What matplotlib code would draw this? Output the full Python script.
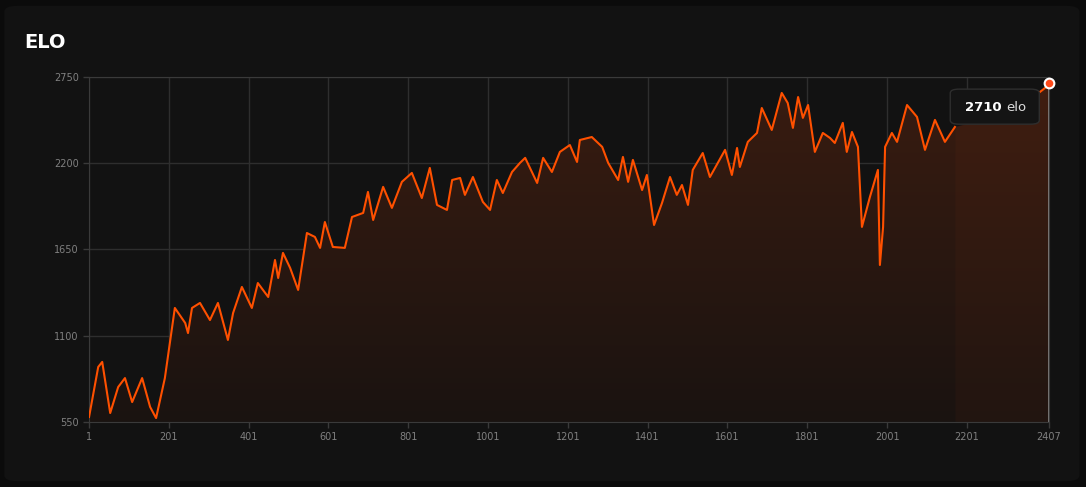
import matplotlib
matplotlib.use("Agg")
import matplotlib.pyplot as plt
import numpy as np
from matplotlib.patches import FancyBboxPatch, Polygon
from matplotlib.colors import LinearSegmentedColormap

games = [1,24,34,54,74,91,109,134,154,169,191,216,242,249,259,279,304,324,349,362,384,409,424,450,467,475,487,505,525,547,567,580,592,612,
         642,660,688,700,713,738,760,785,810,835,855,873,898,911,931,943,963,988,1006,1023,1038,1061,1081,1094,1124,1139,1161,1181,1206,1224,1231,
         1261,1287,1302,1327,1339,1352,1364,1387,1399,1417,1437,1457,1474,1487,1502,1514,1539,1557,1595,1612,1625,1632,1652,1675,1687,1712,1737,1752,1765,1778,1790,1803,1820,1840,
         1858,1870,1890,1900,1913,1928,1938,1958,1978,1983,1991,1996,2013,2026,2051,2076,2096,2121,2146,2171,
         2200,2250,2300,2350,2384,2397,2407]
elo = [582,901,933,607,773,830,677,830,646,575,830,1277,1181,1117,1277,1309,1200,1309,1073,1245,1411,1277,1436,1347,1583,1468,1628,1532,1392,1755,1730,1660,1825,1666,
       1660,1857,1883,2017,1838,2049,1915,2081,2138,1978,2170,1934,1902,2093,2106,1998,2112,1953,1902,2093,2010,2144,2202,2234,2074,2234,2144,2272,2316,2208,2348,
       2367,2304,2202,2093,2240,2081,2221,2029,2125,1806,1947,2112,1998,2061,1934,2157,2265,2112,2285,2125,2297,2176,2336,2393,2552,2412,2648,2584,2425,2622,2489,2571,2272,2393,
       2361,2329,2457,2272,2399,2304,1794,1985,2157,1551,1794,2304,2393,2336,2571,2495,2285,2476,2336,2431,
       2450,2550,2600,2620,2654,2680,2710]
yticks = [550,1100,1650,2200,2750]
xticks = [1,201,401,601,801,1001,1201,1401,1601,1801,2001,2201,2407]
hover_start = 2171

g = np.array(games); e = np.array(elo)
fig = plt.figure(figsize=(10.86,4.87), dpi=100, facecolor="#0b0b0b")
fig.patches.append(FancyBboxPatch((0.004,0.012),0.99,0.976, boxstyle="round,pad=0,rounding_size=0.012",
    transform=fig.transFigure, facecolor="#121212", edgecolor="none", zorder=-10))
ax = fig.add_axes([0.082,0.1335,0.884,0.7085])
ax.set_facecolor("none")
ax.set_xlim(1,2407); ax.set_ylim(550,2750)
ax.set_xticks(xticks); ax.set_yticks(yticks)
ax.tick_params(colors="#3a3a3a", labelcolor="#808080", labelsize=7, length=4, width=1)
for s in ax.spines.values(): s.set_color("#3a3a3a")
ax.grid(True, color="#2e2e2e", lw=1)
ax.set_axisbelow(True)

grad = np.linspace(0,1,256).reshape(-1,1)
cm = LinearSegmentedColormap.from_list("f", ["#1a1311", "#3a1c10"])
im = ax.imshow(grad, extent=[1,2407,550,2750], origin="lower", aspect="auto", cmap=cm, zorder=1)
poly = Polygon(np.column_stack([np.r_[g, g[-1], g[0]], np.r_[e, 550, 550]]), closed=True, transform=ax.transData)
im.set_clip_path(poly)
m = g >= hover_start
ax.fill_between(g[m], e[m], 550, color="#ff5a1f", alpha=0.035, lw=0, zorder=2)
ax.plot(g[g <= hover_start], e[g <= hover_start], color="#ff5000", lw=1.5, zorder=3)
ax.plot(g[g >= 2384], e[g >= 2384], color="#ff5000", lw=1.5, zorder=3)
ax.axvline(2407, color="#888888", lw=1.2, zorder=2)
ax.plot([2407],[2710], 'o', ms=7, mfc="#ff4a1a", mec="white", mew=1.5, zorder=5, clip_on=False)

fig.text(0.022, 0.912, "ELO", color="white", fontsize=14, fontweight="bold", va="center")
fig.patches.append(FancyBboxPatch((0.875,0.745),0.082,0.072, boxstyle="round,pad=0,rounding_size=0.008",
    transform=fig.transFigure, facecolor="#141414", edgecolor="#2e2e2e", lw=1, zorder=5))
fig.text(0.889, 0.779, "2710", color="white", fontsize=9.5, fontweight="bold", va="center", zorder=6)
fig.text(0.927, 0.779, "elo", color="#dddddd", fontsize=9.5, va="center", zorder=6)
fig.savefig("out.png", dpi=100, facecolor=fig.get_facecolor())
